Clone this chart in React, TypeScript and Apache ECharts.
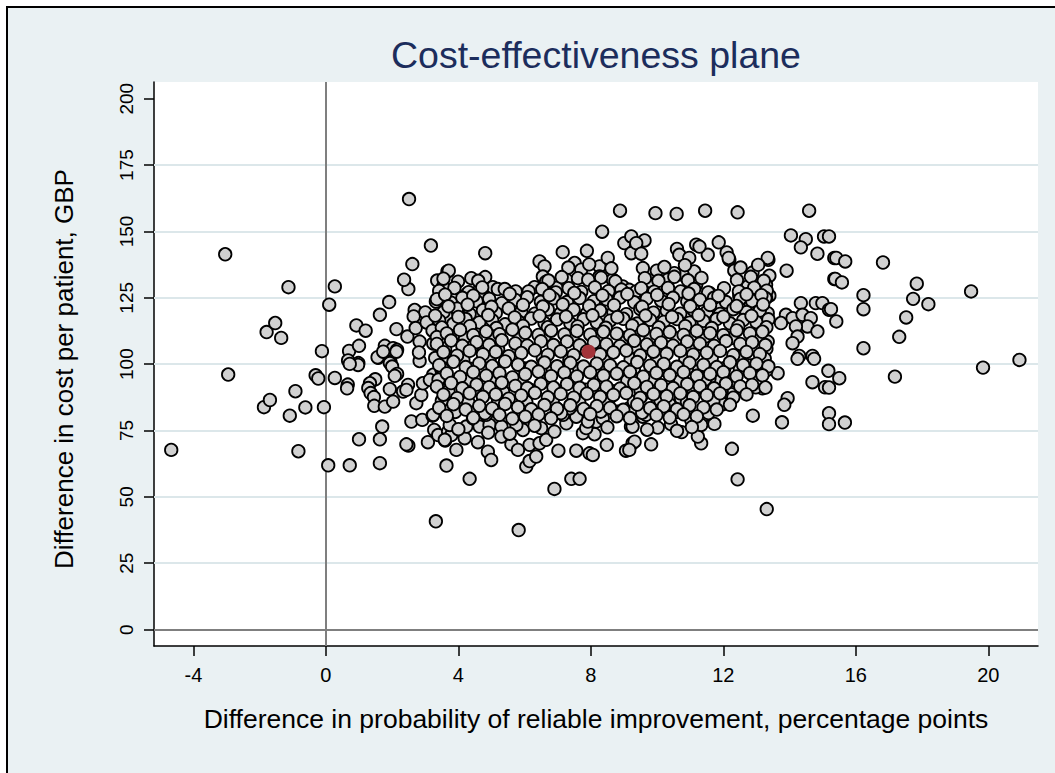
import React, { useEffect, useRef } from "react";
import * as echarts from "echarts";

const titleText = "Cost-effectiveness plane";
const xAxisTitle = "Difference in probability of reliable improvement, percentage points";
const yAxisTitle = "Difference in cost per patient, GBP";

const xTickValues = [-4, 0, 4, 8, 12, 16, 20];
const yTickValues = [0, 25, 50, 75, 100, 125, 150, 175, 200];
const yGridValues = [25, 50, 75, 100, 125, 150, 175];

const meanPoint = [[7.93, 104.7]];

const leftTail = [
  [-4.67, 67.7], [-3.04, 141.4], [-2.95, 96.1], [-1.79, 112.1], [-1.53, 115.5], [-1.35, 109.9],
  [-1.13, 129.0], [-1.87, 83.8], [-1.69, 86.5], [-1.09, 80.6], [-0.92, 89.8], [-0.83, 67.2],
  [-0.62, 83.7], [-0.31, 95.8], [-0.23, 94.6], [-0.12, 104.9], [-0.06, 83.8], [0.07, 61.9],
  [0.1, 122.4], [0.27, 129.3], [0.27, 94.8], [0.72, 61.9], [0.66, 92.3], [0.64, 90.9],
  [0.7, 105.0], [1.0, 106.9], [0.67, 101.4], [0.98, 100.4], [0.92, 114.6], [1.2, 112.6],
  [0.97, 99.7], [0.72, 100.1], [1.0, 71.7],
];

const leftCluster = [
  [1.63, 118.6], [1.91, 123.4], [2.13, 113.2], [2.46, 110.4], [1.78, 106.9], [2.03, 106.0],
  [2.15, 105.4], [1.58, 102.4], [1.95, 100.8], [2.83, 101.2], [2.61, 137.7], [2.49, 128.3],
  [2.36, 131.8], [3.17, 144.7], [2.51, 162.2], [2.68, 120.4], [3.0, 119.5], [2.65, 118.0],
  [2.71, 113.6], [3.04, 115.7], [3.22, 112.6], [2.83, 108.5], [3.24, 107.8], [1.63, 71.7],
  [1.7, 76.5], [1.63, 62.7], [2.49, 69.3], [2.43, 69.8], [3.08, 70.6], [3.32, 40.8],
  [2.58, 78.4], [2.91, 79.0], [3.22, 80.6], [3.27, 75.2], [1.56, 102.6], [1.93, 100.4],
  [2.0, 99.1], [2.15, 96.3], [2.08, 95.6], [1.49, 94.3], [1.33, 92.8], [1.28, 91.0],
  [1.35, 89.1], [1.45, 87.6], [1.46, 84.3], [1.78, 84.0], [2.03, 85.9], [1.93, 90.6],
  [2.33, 89.7], [2.48, 92.2], [2.43, 90.3], [2.73, 85.3], [2.88, 88.4], [2.93, 92.8],
  [3.24, 96.0], [2.81, 104.4], [2.13, 104.7], [1.73, 104.7],
  [3.36, 131.5], [3.67, 134.9], [3.32, 123.6], [3.54, 124.9], [3.52, 109.8], [3.64, 118.0],
  [3.54, 129.3], [3.44, 101.6], [3.5, 99.1], [3.6, 71.2], [3.39, 73.3], [3.69, 74.6],
  [3.64, 80.9], [3.52, 83.4], [3.34, 92.8], [3.44, 91.6], [3.49, 97.9], [3.54, 94.7],
  [3.14, 94.1], [3.64, 102.9], [3.71, 135.2], [3.99, 131.1], [4.39, 132.4], [4.81, 132.8],
  [4.81, 141.8],
];

const upperPoints = [
  [4.11, 122.1], [4.26, 126.5], [4.64, 128.0], [4.74, 125.5], [5.04, 129.0], [5.19, 128.3],
  [5.4, 128.3], [5.73, 127.4], [6.0, 124.2], [6.3, 129.0], [6.45, 138.7], [6.6, 136.8],
  [6.55, 133.0], [6.65, 131.1], [6.96, 128.7], [7.26, 131.8], [7.51, 138.1], [7.71, 135.6],
  [7.61, 132.4], [8.26, 136.8], [8.51, 140.0], [8.26, 133.0], [8.66, 131.8], [8.96, 129.3],
  [9.16, 128.0], [7.15, 142.2], [7.88, 142.7], [8.34, 149.9], [8.88, 157.8], [9.01, 145.6],
  [9.22, 148.1], [9.22, 141.8], [9.62, 146.6], [9.37, 145.6], [9.52, 141.6], [9.57, 136.2],
  [9.99, 135.2], [9.95, 156.9], [10.59, 156.6], [11.45, 157.8], [12.43, 157.2], [14.59, 157.8],
  [10.6, 143.4], [11.18, 145.0], [10.67, 141.2], [10.97, 140.0], [11.53, 141.2], [11.86, 145.9],
  [12.1, 142.1], [12.18, 139.3], [12.33, 135.2], [12.88, 134.5], [13.36, 139.3], [13.39, 133.3],
  [13.29, 129.9], [13.39, 125.8], [12.99, 127.4], [12.74, 129.3], [12.48, 125.8], [11.88, 123.0],
  [11.58, 126.8], [11.18, 129.9], [11.12, 134.9], [10.77, 133.7], [10.52, 134.3], [10.32, 131.8],
  [9.72, 129.9], [9.37, 127.4], [9.67, 126.8], [11.28, 144.3], [12.16, 140.0], [13.34, 140.0],
];

const lowerPoints = [
  [4.34, 56.8], [3.79, 73.3], [4.19, 72.1], [4.59, 70.6], [3.74, 77.1], [4.24, 76.5],
  [4.44, 79.6], [4.64, 76.5], [4.94, 77.1], [5.3, 76.5], [4.84, 80.9], [4.89, 67.0],
  [4.99, 63.9], [5.3, 72.7], [5.6, 69.8], [5.8, 67.7], [6.05, 61.4], [6.15, 63.5],
  [6.35, 65.2], [6.15, 69.6], [6.45, 70.2], [6.65, 71.5], [6.5, 75.9], [5.95, 75.2],
  [5.75, 77.1], [6.9, 53.0], [7.02, 67.4], [7.41, 56.8], [7.66, 56.8], [7.56, 67.4],
  [7.96, 66.4], [8.06, 65.8], [8.48, 69.6], [9.06, 67.4], [9.26, 70.2], [7.76, 74.0],
  [8.11, 73.6], [7.86, 75.9], [8.16, 78.4], [8.36, 79.6], [7.91, 78.4], [7.26, 77.7],
  [7.56, 80.2], [7.16, 80.9], [6.96, 83.4], [7.36, 83.4], [8.81, 82.1], [8.56, 87.2],
  [9.21, 76.5], [9.16, 83.4], [5.82, 37.5], [3.94, 67.7], [3.24, 80.9], [3.59, 71.5],
  [3.64, 61.8],
];

const rightPoints = [
  [14.04, 148.5], [14.49, 147.1], [15.04, 148.1], [14.34, 144.0], [14.84, 141.6], [15.35, 140.0],
  [13.91, 135.2], [15.35, 132.1], [14.34, 123.0], [14.79, 123.0], [14.99, 123.0], [15.19, 120.5],
  [13.89, 118.6], [13.74, 115.5], [14.09, 117.3], [14.39, 118.6], [14.64, 117.3], [14.54, 114.2],
  [14.84, 112.3], [14.19, 114.2], [14.24, 110.4], [14.09, 107.9], [14.29, 103.1], [14.69, 103.1],
  [13.34, 108.5], [13.34, 119.2], [13.29, 124.9], [13.04, 116.7], [12.68, 118.6], [12.83, 122.4],
  [13.31, 45.4], [12.43, 56.6], [12.26, 68.1], [11.33, 70.2], [11.23, 72.7], [11.73, 77.5],
  [10.74, 74.4], [9.82, 69.8], [9.32, 70.8], [9.16, 67.7], [10.42, 77.4], [10.02, 76.1],
  [9.26, 76.5], [9.57, 80.2], [12.89, 80.6], [13.77, 78.1], [13.94, 87.2], [13.84, 84.7],
  [13.64, 96.6], [14.24, 102.0], [14.74, 102.0], [14.69, 93.2], [15.07, 91.3], [15.17, 97.5],
  [15.19, 81.5], [15.19, 77.4], [13.18, 90.9], [12.98, 91.3], [13.08, 96.6], [12.88, 96.0],
  [12.83, 99.5], [12.28, 91.2], [12.23, 88.7], [11.98, 84.9], [11.5, 83.6], [11.48, 80.9],
  [11.33, 77.1], [11.03, 79.0], [10.97, 85.9], [10.37, 84.9], [10.72, 87.2], [9.67, 80.9],
  [9.52, 87.8], [9.32, 83.4], [10.02, 86.5], [10.12, 90.3], [9.77, 91.6], [11.38, 90.9],
  [11.73, 90.3], [11.83, 94.7], [12.03, 98.5], [11.58, 94.7], [11.18, 97.2],
  [16.82, 138.3], [17.84, 130.3], [19.48, 127.4], [17.73, 124.6], [18.19, 122.6], [17.52, 117.6],
  [17.31, 110.3], [16.23, 126.0], [16.23, 120.7], [16.23, 106.0], [15.41, 140.0], [15.68, 138.7],
  [15.38, 132.1], [15.58, 130.8], [15.25, 120.7], [15.41, 116.1], [15.19, 148.1], [20.94, 101.6],
  [19.84, 98.7], [17.18, 95.3], [15.5, 94.7], [15.19, 91.2], [15.67, 78.0],
];

const coreTop = [
  [7.32, 136.4], [7.95, 137.6], [8.62, 136.1], [10.22, 136.6], [10.84, 137.3], [12.52, 136.4], [13.05, 137.4],
  [3.55, 132.2], [4.6, 131.4], [6.72, 131.5], [7.12, 132.8], [7.92, 131.8], [8.31, 132.6], [8.74, 131.2],
  [9.63, 132.4], [10.04, 131.4], [10.52, 132.9], [10.93, 131.6], [11.34, 132.5], [12.41, 131.7], [12.83, 132.9], [13.22, 131.4],
  [3.42, 127.6], [3.88, 128.7], [4.31, 127.1], [4.72, 128.9], [6.12, 127.4], [6.53, 128.3], [6.94, 127.0], [7.33, 128.6],
  [7.71, 127.2], [8.12, 128.9], [8.53, 127.5], [8.92, 128.1], [9.52, 128.6], [9.91, 127.3], [10.33, 128.7], [10.71, 127.4],
  [11.12, 128.3], [11.54, 127.0], [12.02, 128.6], [12.47, 127.4], [12.93, 128.8], [13.31, 127.7],
  [3.35, 124.5], [3.78, 123.2], [4.12, 125.0], [4.55, 123.7], [4.93, 124.6], [5.31, 123.0], [5.72, 124.2], [6.08, 125.2],
  [6.49, 123.5], [6.87, 124.8], [7.28, 123.4], [7.66, 124.9], [8.09, 123.7], [8.47, 124.4], [8.88, 125.1], [9.31, 123.3],
  [9.69, 124.7], [10.12, 123.9], [10.48, 125.0], [10.91, 123.6], [11.29, 124.3], [11.72, 125.0], [12.08, 123.4], [12.51, 124.6],
  [12.87, 123.8], [13.27, 124.9],
  [3.55, 119.6], [3.96, 120.9], [4.34, 118.9], [4.74, 120.3], [5.13, 119.3], [5.52, 121.0], [5.9, 119.8], [6.31, 119.0],
  [6.7, 120.6], [7.09, 119.2], [7.48, 120.5], [7.88, 119.1], [8.28, 120.2], [8.68, 119.5], [9.07, 118.8], [9.49, 120.8],
  [9.89, 119.4], [10.29, 120.1], [10.7, 119.0], [11.09, 120.5], [11.5, 119.7], [11.9, 118.9], [12.3, 120.7], [12.7, 119.6], [13.1, 120.2],
  [3.42, 116.5], [3.85, 115.2], [4.22, 117.0], [4.63, 115.7], [5.02, 116.6], [5.41, 115.0], [5.8, 116.2], [6.2, 117.2],
  [6.6, 115.5], [6.98, 116.8], [7.38, 115.4], [7.78, 116.9], [8.18, 115.7], [8.58, 116.4], [8.98, 117.1], [9.4, 115.3],
  [9.79, 116.7], [10.2, 115.9], [10.6, 117.0], [10.98, 115.6], [11.4, 116.3], [11.8, 117.0], [12.2, 115.4], [12.6, 116.6],
  [13.0, 115.8], [13.36, 116.9],
];

const coreMiddle = [
  [3.65, 111.6], [4.05, 112.9], [4.45, 110.9], [4.84, 112.3], [5.24, 111.3], [5.63, 113.0], [6.02, 111.8], [6.42, 111.0],
  [6.8, 112.6], [7.2, 111.2], [7.58, 112.5], [7.98, 111.1], [8.38, 112.2], [8.78, 111.5], [9.18, 110.8], [9.58, 112.8],
  [9.98, 111.4], [10.38, 112.1], [10.8, 111.0], [11.2, 112.5], [11.6, 111.7], [12.0, 110.9], [12.4, 112.7], [12.8, 111.6], [13.18, 112.2],
  [3.35, 107.6], [3.78, 108.9], [4.12, 106.9], [4.55, 108.3], [4.93, 107.3], [5.31, 109.0], [5.72, 107.8], [6.08, 107.0],
  [6.49, 108.6], [6.87, 107.2], [7.28, 108.5], [7.66, 107.1], [8.09, 108.2], [8.47, 107.5], [8.88, 106.8], [9.31, 108.8],
  [9.69, 107.4], [10.12, 108.1], [10.48, 107.0], [10.91, 108.5], [11.29, 107.7], [11.72, 106.9], [12.08, 108.7], [12.51, 107.6],
  [12.87, 108.2], [13.27, 107.2],
  [3.55, 104.5], [3.96, 103.2], [4.34, 105.0], [4.74, 103.7], [5.13, 104.6], [5.52, 103.0], [5.9, 104.2], [6.31, 105.2],
  [6.7, 103.5], [7.09, 104.8], [7.48, 103.4], [7.88, 104.9], [8.28, 103.7], [8.68, 104.4], [9.07, 105.1], [9.49, 103.3],
  [9.89, 104.7], [10.29, 103.9], [10.7, 105.0], [11.09, 103.6], [11.5, 104.3], [11.9, 105.0], [12.3, 103.4], [12.7, 104.6], [13.1, 103.8],
  [3.42, 99.6], [3.85, 100.9], [4.22, 98.9], [4.63, 100.3], [5.02, 99.3], [5.41, 101.0], [5.8, 99.8], [6.2, 99.0],
  [6.6, 100.6], [6.98, 99.2], [7.38, 100.5], [7.78, 99.1], [8.18, 100.2], [8.58, 99.5], [8.98, 98.8], [9.4, 100.8],
  [9.79, 99.4], [10.2, 100.1], [10.6, 99.0], [10.98, 100.5], [11.4, 99.7], [11.8, 98.9], [12.2, 100.7], [12.6, 99.6],
  [13.0, 100.2], [13.36, 99.2],
];

const coreBottom = [
  [3.65, 96.5], [4.05, 95.2], [4.45, 97.0], [4.84, 95.7], [5.24, 96.6], [5.63, 95.0], [6.02, 96.2], [6.42, 97.2],
  [6.8, 95.5], [7.2, 96.8], [7.58, 95.4], [7.98, 96.9], [8.38, 95.7], [8.78, 96.4], [9.18, 97.1], [9.58, 95.3],
  [9.98, 96.7], [10.38, 95.9], [10.8, 97.0], [11.2, 95.6], [11.6, 96.3], [12.0, 97.0], [12.4, 95.4], [12.8, 96.6], [13.18, 95.8],
  [3.35, 91.6], [3.78, 92.9], [4.12, 90.9], [4.55, 92.3], [4.93, 91.3], [5.31, 93.0], [5.72, 91.8], [6.08, 91.0],
  [6.49, 92.6], [6.87, 91.2], [7.28, 92.5], [7.66, 91.1], [8.09, 92.2], [8.47, 91.5], [8.88, 90.8], [9.31, 92.8],
  [9.69, 91.4], [10.12, 92.1], [10.48, 91.0], [10.91, 92.5], [11.29, 91.7], [11.72, 90.9], [12.08, 92.7], [12.51, 91.6],
  [12.87, 92.2], [13.27, 91.2],
  [3.55, 88.5], [3.96, 87.2], [4.34, 89.0], [4.74, 87.7], [5.13, 88.6], [5.52, 87.0], [5.9, 88.2], [6.31, 89.2],
  [6.7, 87.5], [7.09, 88.8], [7.48, 87.4], [7.88, 88.9], [8.28, 87.7], [8.68, 88.4], [9.07, 89.1], [9.49, 87.3],
  [9.89, 88.7], [10.29, 87.9], [10.7, 89.0], [11.09, 87.6], [11.5, 88.3], [11.9, 89.0], [12.3, 87.4], [12.7, 88.6],
  [3.42, 83.6], [3.85, 84.9], [4.22, 82.9], [4.63, 84.3], [5.02, 83.3], [5.41, 85.0], [5.8, 83.8], [6.2, 83.0],
  [6.6, 84.6], [6.98, 83.2], [7.38, 84.5], [7.78, 83.1], [8.18, 84.2], [8.58, 83.5], [8.98, 82.8], [9.4, 84.8],
  [9.79, 83.4], [10.2, 84.1], [10.6, 83.0], [10.98, 84.5], [11.4, 83.7], [11.8, 82.9], [12.2, 84.7],
  [3.65, 80.5], [4.45, 79.8], [5.24, 80.9], [5.63, 79.5], [6.02, 80.2], [6.42, 81.0], [6.8, 79.6], [7.98, 81.2],
  [8.78, 80.4], [9.18, 79.7], [9.98, 80.8], [10.38, 79.9], [10.8, 81.1], [11.2, 80.3],
  [4.0, 75.5], [4.9, 74.2], [5.55, 73.8], [6.3, 76.8], [6.9, 74.6], [8.5, 76.2], [9.7, 75.3], [10.6, 74.9], [11.05, 76.3],
];

const coreExtra = [
  [3.6, 126.2], [4.45, 125.8], [5.55, 126.5], [6.75, 126.0], [7.5, 126.8], [8.35, 125.9], [9.1, 126.4], [10.0, 126.1],
  [10.95, 126.6], [11.85, 125.7], [12.7, 126.3], [13.15, 126.0],
  [3.7, 121.8], [4.28, 122.4], [5.0, 121.6], [5.95, 122.3], [6.55, 121.7], [7.15, 122.5], [7.95, 121.9], [8.7, 122.2],
  [9.55, 121.6], [10.35, 122.6], [11.0, 121.8], [11.6, 122.3], [12.4, 121.9], [13.2, 122.5],
  [3.3, 118.3], [4.0, 117.8], [4.9, 118.5], [5.7, 117.6], [6.45, 118.2], [7.25, 117.9], [8.05, 118.4], [8.8, 117.7],
  [9.65, 118.3], [10.45, 117.8], [11.25, 118.5], [12.0, 117.9], [12.85, 118.2],
  [3.5, 113.8], [4.35, 114.3], [5.15, 113.6], [5.95, 114.4], [6.7, 113.9], [7.6, 114.2], [8.45, 113.7], [9.25, 114.5],
  [10.05, 113.8], [10.85, 114.3], [11.65, 113.6], [12.45, 114.2], [13.3, 113.9],
  [3.35, 110.2], [4.2, 109.7], [5.05, 110.4], [5.85, 109.8], [6.6, 110.3], [7.45, 109.6], [8.2, 110.5], [9.0, 109.9],
  [9.8, 110.2], [10.6, 109.7], [11.45, 110.4], [12.25, 109.8], [13.05, 110.1],
  [3.6, 105.8], [4.4, 106.3], [5.2, 105.6], [6.05, 106.4], [6.9, 105.9], [7.7, 106.2], [8.55, 105.7], [9.35, 106.4],
  [10.15, 105.8], [10.95, 106.3], [11.8, 105.6], [12.6, 106.2], [13.3, 105.8],
  [3.3, 102.3], [4.15, 101.7], [4.95, 102.4], [5.75, 101.8], [6.55, 102.2], [7.35, 101.6], [8.4, 102.1], [9.2, 101.8],
  [10.0, 102.4], [10.85, 101.7], [11.65, 102.3], [12.45, 101.8], [13.25, 102.1],
  [3.55, 97.8], [4.35, 98.3], [5.15, 97.6], [6.0, 98.4], [6.85, 97.9], [7.65, 98.2], [8.45, 97.7], [9.3, 98.3],
  [10.1, 97.8], [10.9, 98.3], [11.7, 97.6], [12.5, 98.2], [13.3, 97.7],
  [3.4, 94.2], [4.25, 93.7], [5.05, 94.4], [5.9, 93.8], [6.7, 94.3], [7.45, 93.6], [8.3, 94.2], [9.1, 93.8],
  [9.9, 94.4], [10.7, 93.7], [11.45, 94.2], [12.3, 93.9], [13.05, 94.1],
  [3.7, 89.8], [4.5, 90.3], [5.35, 89.6], [6.2, 90.2], [7.0, 89.7], [7.85, 90.4], [8.65, 89.8], [9.5, 90.2],
  [10.3, 89.6], [11.1, 90.3], [11.95, 89.7], [12.6, 90.1],
  [3.5, 86.2], [4.3, 85.7], [5.2, 86.4], [6.05, 85.8], [6.85, 86.3], [7.65, 85.6], [8.45, 86.2], [9.3, 85.8],
  [10.1, 86.4], [10.9, 85.7], [11.7, 86.1],
  [3.9, 82.0], [4.8, 81.5], [5.9, 82.2], [7.1, 81.6], [8.3, 82.1], [9.55, 81.7], [10.6, 82.0], [11.55, 81.6],
];

const FONT = "'Liberation Sans', Arial, Helvetica, sans-serif";

export default function App() {
  const ref = useRef<HTMLDivElement>(null);

  useEffect(() => {
    if (!ref.current) return;
    const chart = echarts.init(ref.current, null, { renderer: "svg" });
    const allPoints = [
      ...leftTail, ...leftCluster, ...upperPoints, ...lowerPoints, ...rightPoints,
      ...coreTop, ...coreExtra, ...coreMiddle, ...coreBottom,
    ];
    chart.setOption({
      animation: false,
      backgroundColor: "transparent",
      textStyle: { fontFamily: FONT },
      grid: {
        left: 154, right: 17, top: 82, bottom: 127,
        show: true, backgroundColor: "#ffffff", borderWidth: 0,
      },
      graphic: [
        {
          type: "text", x: 596, y: 55,
          style: { text: titleText, fontSize: 37.5, fill: "#1c2d5c", align: "center", verticalAlign: "middle", fontFamily: FONT },
        },
        {
          type: "text", x: 596, y: 719,
          style: { text: xAxisTitle, fontSize: 26.5, fill: "#000", align: "center", verticalAlign: "middle", fontFamily: FONT },
        },
        {
          type: "text", x: 64, y: 369, rotation: Math.PI / 2,
          style: { text: yAxisTitle, fontSize: 26, fill: "#000", align: "center", verticalAlign: "middle", fontFamily: FONT },
        },
      ],
      xAxis: {
        type: "value", min: -5.19, max: 21.5,
        axisLine: { onZero: false, lineStyle: { color: "#000", width: 1.5 } },
        axisTick: { show: true, length: 10, customValues: xTickValues, lineStyle: { color: "#000", width: 1.5 } },
        axisLabel: { customValues: xTickValues, fontSize: 20, color: "#000", margin: 19, fontFamily: FONT },
        splitLine: { show: false },
      },
      yAxis: {
        type: "value", min: -6.18, max: 206.3,
        axisLine: { onZero: false, lineStyle: { color: "#000", width: 1.5 } },
        axisTick: { show: true, length: 10, customValues: yTickValues, lineStyle: { color: "#000", width: 1.5 } },
        axisLabel: { customValues: yTickValues, fontSize: 19, color: "#000", margin: 18, rotate: 90, fontFamily: FONT },
        splitLine: { show: false },
      },
      series: [
        {
          type: "scatter",
          data: allPoints,
          symbol: "circle",
          symbolSize: 12.5,
          z: 2,
          itemStyle: { color: "#d1d1d1", borderColor: "#000", borderWidth: 1.8, opacity: 1 },
          emphasis: { disabled: true },
          markLine: {
            silent: true, z: 1, symbol: "none", label: { show: false }, animation: false,
            emphasis: { disabled: true },
            data: [
              ...yGridValues.map((v) => ({ yAxis: v, lineStyle: { color: "#dce7ea", width: 2, type: "solid" } })),
              { yAxis: 0, lineStyle: { color: "#7f7f7f", width: 2, type: "solid" } },
              { xAxis: 0, lineStyle: { color: "#7f7f7f", width: 2, type: "solid" } },
            ],
          },
        },
        {
          type: "scatter",
          data: meanPoint,
          symbol: "circle",
          symbolSize: 14,
          z: 3,
          itemStyle: { color: "#a3343a", borderWidth: 0, opacity: 1 },
          emphasis: { disabled: true },
        },
      ],
    });
    return () => chart.dispose();
  }, []);

  return (
    <div style={{ position: "absolute", left: 0, top: 0, width: 1055, height: 773, background: "#fff", overflow: "hidden" }}>
      <div style={{ position: "absolute", left: 6, top: 6, width: 1120, height: 820, background: "#eaf1f3", border: "2px solid #000", boxSizing: "border-box" }} />
      <div ref={ref} style={{ position: "absolute", left: 0, top: 0, width: 1055, height: 773 }} />
    </div>
  );
}
